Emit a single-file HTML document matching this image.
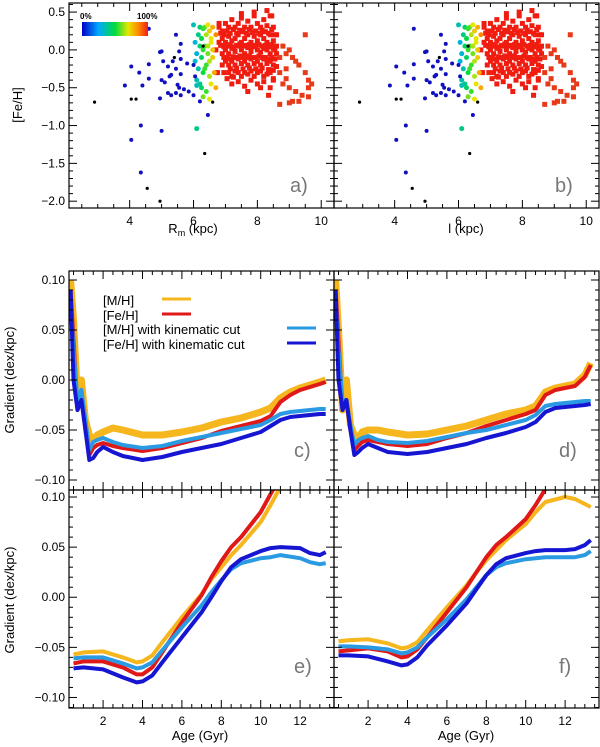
<!DOCTYPE html>
<html><head><meta charset="utf-8"><style>
html,body{margin:0;padding:0;background:#fff;}
svg{display:block;font-family:"Liberation Sans",sans-serif;}
</style></head><body>
<svg id="fig" width="600" height="747" viewBox="0 0 600 747"></svg>
<script>
// ---------- data ----------
const blueR=[4.6,5.45,5.6,5.0,4.95,5.55,5.05,5.35,5.6,5.8,4.05,4.6,5.2,5.45,4.3,5.3,5.25,5.6,4.6,5.0,5.1,3.85,4.4,5.5,5.55,5.7,5.2,5.3,5.45,5.6,5.85,6.0,4.95,6.2,6.45,4.35,5.0,4.05,4.35,6.0,6.05];
const blueFe=[0.28,0.2,0.08,-0.02,-0.03,-0.02,-0.15,-0.15,-0.12,-0.18,-0.22,-0.19,-0.22,-0.25,-0.3,-0.33,-0.35,-0.32,-0.38,-0.4,-0.43,-0.47,-0.47,-0.46,-0.5,-0.52,-0.57,-0.6,-0.57,-0.6,-0.55,-0.6,-0.64,-0.68,-0.86,-1.0,-1.07,-1.19,-1.62,-0.2,-0.35];
const blackR=[2.9,4.05,4.2,6.6,6.35,4.55,4.95,5.4,6.3];
const blackFe=[-0.69,-0.65,-0.65,-0.69,-1.37,-1.83,-2.0,-0.1,0.05];
const midR=[6.0,6.05,6.1,6.2,6.25,6.3,6.35,6.4,6.45,6.5,6.55,6.6,6.05,6.15,6.25,6.35,6.45,6.55,6.1,6.2,6.3,6.4,6.5,6.6,6.7,6.15,6.3,6.45,6.6,6.1,6.25,6.4,6.55,6.7,6.2,6.35,6.5,6.65,6.1,6.3,6.5];
const midFe=[0.33,0.1,-0.05,0.3,0.15,0.0,0.3,0.2,0.33,0.25,0.1,0.3,-0.15,-0.25,-0.1,0.05,-0.05,0.15,-0.4,-0.45,-0.3,-0.2,-0.35,-0.1,0.2,0.2,0.28,0.05,0.0,-0.47,-0.5,-0.55,-0.45,-0.5,0.05,-0.25,-0.15,-0.3,-1.04,-0.62,-0.65];
const midC=[0.35,0.3,0.3,0.45,0.5,0.55,0.6,0.65,0.7,0.75,0.7,0.8,0.3,0.35,0.45,0.55,0.6,0.7,0.35,0.4,0.5,0.55,0.65,0.75,0.85,0.4,0.55,0.65,0.75,0.35,0.45,0.55,0.7,0.8,0.45,0.55,0.65,0.8,0.4,0.6,0.7];
const redR=[6.8,6.9,7.0,7.1,7.2,7.3,7.4,7.5,7.6,7.7,7.8,7.9,8.0,8.1,8.2,8.3,8.4,8.5,8.6,
6.8,6.9,7.0,7.1,7.2,7.3,7.4,7.5,7.6,7.7,7.8,7.9,8.0,8.1,8.2,8.3,8.4,8.5,8.6,
6.9,7.0,7.1,7.2,7.3,7.4,7.5,7.6,7.7,7.8,7.9,8.0,8.1,8.2,8.3,8.4,8.5,8.6,8.7,
7.0,7.1,7.2,7.3,7.4,7.5,7.6,7.7,7.8,7.9,8.0,8.1,8.2,8.3,8.4,8.5,8.6,
7.1,7.2,7.3,7.4,7.5,7.6,7.7,7.8,7.9,8.0,8.1,8.2,8.3,8.4,8.5,
7.2,7.4,7.6,7.8,8.0,8.2,8.4,8.5,7.5,7.9,8.3,8.45,7.7,8.1,8.35,
8.8,8.9,9.0,9.1,9.2,8.7,8.9,9.3,9.5,9.6,9.7,8.8,9.0,9.2,9.4,9.6,8.7,9.0,9.1,9.3,9.6,9.5,8.9,6.75,6.7,
6.85,6.95,7.05,7.15,7.25,7.35,7.45,7.55,7.65,7.75,7.85,7.95,8.05,8.15,8.25,8.35,8.45,8.55,
6.85,6.95,7.05,7.15,7.25,7.35,7.45,7.55,7.65,7.75,7.85,7.95,8.05,8.15,8.25,8.35,8.45,8.55,
6.95,7.05,7.15,7.25,7.35,7.45,7.55,7.65,7.75,7.85,7.95,8.05,8.15,8.25,8.35,8.45,8.55,
7.15,7.35,7.55,7.75,7.95,8.15,8.35,8.5,6.95,7.05,7.25,6.8,6.9];
const redFe=[0.3,0.25,0.35,0.3,0.4,0.3,0.35,0.42,0.3,0.38,0.3,0.45,0.35,0.3,0.4,0.32,0.45,0.3,0.2,
0.1,0.15,0.1,0.18,0.12,0.15,0.2,0.1,0.15,0.2,0.1,0.18,0.12,0.2,0.15,0.1,0.2,0.12,0.05,
-0.05,0.0,-0.05,0.02,-0.02,0.05,0.0,-0.05,0.03,-0.02,0.05,0.0,-0.03,0.02,0.0,-0.05,0.02,-0.05,-0.1,
-0.15,-0.2,-0.15,-0.2,-0.12,-0.18,-0.15,-0.2,-0.12,-0.18,-0.15,-0.2,-0.12,-0.18,-0.15,-0.2,-0.22,
-0.3,-0.35,-0.28,-0.3,-0.35,-0.3,-0.32,-0.28,-0.35,-0.3,-0.28,-0.35,-0.32,-0.3,-0.38,
-0.45,-0.42,-0.48,-0.4,-0.45,-0.42,-0.5,-0.4,0.48,0.5,0.52,0.45,-0.55,-0.5,-0.6,
0.05,-0.05,0.0,-0.1,-0.15,-0.3,-0.25,-0.2,-0.3,-0.4,-0.45,-0.45,-0.5,-0.55,-0.6,-0.5,-0.72,-0.7,-0.68,-0.68,-0.62,0.2,-0.38,-0.3,0.0,
0.22,0.2,0.25,0.22,0.27,0.22,0.26,0.24,0.22,0.27,0.23,0.25,0.22,0.26,0.24,0.22,0.27,0.2,
0.06,0.04,0.05,0.07,0.04,0.06,0.08,0.05,0.06,0.07,0.04,0.06,0.07,0.05,0.06,0.04,0.07,0.0,
-0.1,-0.1,-0.12,-0.09,-0.1,-0.08,-0.1,-0.1,-0.08,-0.1,-0.1,-0.08,-0.1,-0.1,-0.12,-0.1,-0.12,
-0.25,-0.24,-0.25,-0.24,-0.25,-0.24,-0.26,-0.27,-0.3,-0.38,-0.36,0.35,-0.2];
// gradient curves (panels c,d)
const cAge=[0.35,0.5,0.7,0.9,1.1,1.3,1.5,1.7,2,2.5,3,4,5,6,7,8,9,10,10.5,11,11.5,12,12.5,13,13.3];
const cMH=[0.10,0.06,-0.02,0.0,-0.04,-0.055,-0.060,-0.055,-0.052,-0.048,-0.050,-0.055,-0.055,-0.052,-0.048,-0.042,-0.038,-0.032,-0.028,-0.018,-0.012,-0.008,-0.005,-0.002,0.0];
const cFe=[0.09,0.04,-0.03,-0.01,-0.05,-0.075,-0.068,-0.065,-0.063,-0.066,-0.068,-0.071,-0.068,-0.063,-0.058,-0.051,-0.046,-0.041,-0.036,-0.022,-0.015,-0.010,-0.007,-0.004,-0.002];
const cMHk=[0.08,0.03,-0.02,-0.01,-0.04,-0.07,-0.062,-0.060,-0.058,-0.062,-0.065,-0.068,-0.066,-0.061,-0.057,-0.053,-0.049,-0.045,-0.040,-0.034,-0.032,-0.031,-0.030,-0.029,-0.029];
const cFek=[0.09,0.0,-0.03,-0.02,-0.05,-0.08,-0.078,-0.072,-0.067,-0.072,-0.076,-0.080,-0.077,-0.072,-0.068,-0.064,-0.058,-0.052,-0.046,-0.040,-0.037,-0.036,-0.035,-0.034,-0.034];
const dMH=[0.10,0.05,-0.03,0.0,-0.045,-0.055,-0.058,-0.052,-0.050,-0.050,-0.052,-0.055,-0.054,-0.050,-0.046,-0.040,-0.034,-0.030,-0.026,-0.012,-0.008,-0.006,-0.004,0.005,0.017];
const dFe=[0.09,0.04,-0.03,-0.02,-0.05,-0.07,-0.066,-0.062,-0.060,-0.062,-0.064,-0.066,-0.064,-0.058,-0.053,-0.046,-0.040,-0.034,-0.030,-0.015,-0.010,-0.008,-0.006,0.003,0.015];
const dMHk=[0.08,0.03,-0.02,-0.02,-0.045,-0.065,-0.060,-0.058,-0.056,-0.060,-0.062,-0.063,-0.061,-0.057,-0.053,-0.050,-0.045,-0.040,-0.035,-0.026,-0.024,-0.023,-0.022,-0.021,-0.021];
const dFek=[0.09,0.0,-0.03,-0.02,-0.05,-0.075,-0.072,-0.068,-0.064,-0.068,-0.072,-0.074,-0.072,-0.068,-0.064,-0.058,-0.053,-0.047,-0.042,-0.032,-0.028,-0.027,-0.026,-0.025,-0.024];
// panels e,f
const eAge=[0.5,1,2,3,3.7,4,4.5,5,6,7,7.5,8,8.5,9,10,10.5,11,12,12.5,13,13.3];
const eMH=[-0.057,-0.055,-0.054,-0.060,-0.065,-0.064,-0.058,-0.045,-0.020,0.003,0.018,0.030,0.042,0.052,0.075,0.092,0.110,0.14,0.15,0.16,0.17];
const eFe=[-0.066,-0.064,-0.064,-0.070,-0.077,-0.077,-0.070,-0.055,-0.025,0.002,0.020,0.036,0.050,0.060,0.085,0.103,0.12,0.15,0.16,0.17,0.18];
const eMHk=[-0.061,-0.060,-0.060,-0.066,-0.071,-0.070,-0.065,-0.053,-0.030,-0.008,0.005,0.017,0.028,0.034,0.039,0.040,0.042,0.039,0.035,0.033,0.034];
const eFek=[-0.071,-0.070,-0.072,-0.080,-0.085,-0.084,-0.078,-0.065,-0.040,-0.015,0.0,0.016,0.030,0.038,0.046,0.049,0.050,0.049,0.044,0.042,0.045];
const fMH=[-0.044,-0.043,-0.042,-0.046,-0.051,-0.050,-0.045,-0.033,-0.010,0.012,0.025,0.037,0.047,0.057,0.073,0.085,0.095,0.100,0.098,0.093,0.090];
const fFe=[-0.054,-0.053,-0.051,-0.054,-0.060,-0.059,-0.052,-0.040,-0.015,0.010,0.025,0.040,0.052,0.060,0.078,0.092,0.108,0.13,0.14,0.15,0.16];
const fMHk=[-0.049,-0.049,-0.050,-0.052,-0.056,-0.055,-0.050,-0.040,-0.022,-0.002,0.010,0.022,0.030,0.034,0.038,0.039,0.040,0.040,0.040,0.042,0.046];
const fFek=[-0.058,-0.058,-0.059,-0.064,-0.068,-0.067,-0.060,-0.048,-0.028,-0.006,0.008,0.022,0.033,0.039,0.044,0.046,0.047,0.047,0.048,0.052,0.057];

const NS='http://www.w3.org/2000/svg';
const svg=document.getElementById('fig');
function el(tag,attrs,parent){const e=document.createElementNS(NS,tag);for(const k in attrs)e.setAttribute(k,attrs[k]);(parent||svg).appendChild(e);return e;}
const COL={mh:'#f5b61e',fe:'#e01818',mhk:'#2a9ae2',fek:'#1616d2'};
function jet(t){const stops=[[0,[0,0,200]],[0.25,[0,170,255]],[0.5,[0,220,60]],[0.7,[230,230,0]],[0.85,[255,140,0]],[1,[240,30,20]]];
 for(let i=1;i<stops.length;i++){if(t<=stops[i][0]){const a=stops[i-1],b=stops[i];const u=(t-a[0])/(b[0]-a[0]);
 return 'rgb('+a[1].map((v,j)=>Math.round(v+(b[1][j]-v)*u)).join(',')+')';}}return 'rgb(240,30,20)';}

function panel(id,x0,x1,y0,y1,xmin,xmax,ymin,ymax){
 const g=el('g',{});
 
 
 const sx=v=>x0+(v-xmin)/(xmax-xmin)*(x1-x0);
 const sy=v=>y1-(v-ymin)/(ymax-ymin)*(y1-y0);
 const cp=el('clipPath',{id:'clip'+id},g);el('rect',{x:x0,y:y0,width:x1-x0,height:y1-y0},cp);
 const plot=el('g',{'clip-path':'url(#clip'+id+')'},g);
 return {g,plot,sx,sy,x0,x1,y0,y1};
}
function axes(p,xmaj,xmin,ymaj,ymin,xr,yr,showXLab,showYLab,yfmt,id){
 const g=el('g',{},p.g);
 
 
 el('rect',{x:p.x0,y:p.y0,width:p.x1-p.x0,height:p.y1-p.y0,fill:'none',stroke:'#000','stroke-width':1.2},g);
 for(let v=Math.ceil(xr[0]/xmin)*xmin;v<=xr[1]+1e-9;v+=xmin){
  const maj=Math.abs(v/xmaj-Math.round(v/xmaj))<1e-6;const L=maj?8:4;const x=p.sx(v);
  el('line',{x1:x,x2:x,y1:p.y1,y2:p.y1-L,stroke:'#000'},g);el('line',{x1:x,x2:x,y1:p.y0,y2:p.y0+L,stroke:'#000'},g);
  if(maj&&showXLab){const t=el('text',{x:x,y:p.y1+17,'font-size':12,'text-anchor':'middle'},g);t.textContent=Math.round(v);}
 }
 for(let v=Math.ceil(yr[0]/ymin-1e-6)*ymin;v<=yr[1]+1e-9;v+=ymin){
  const maj=Math.abs(v/ymaj-Math.round(v/ymaj))<1e-6;const L=maj?8:4;const y=p.sy(v);
  el('line',{x1:p.x0,x2:p.x0+L,y1:y,y2:y,stroke:'#000'},g);el('line',{x1:p.x1,x2:p.x1-L,y1:y,y2:y,stroke:'#000'},g);
  if(maj&&showYLab){const t=el('text',{x:p.x0-4,y:y+4,'font-size':12,'text-anchor':'end'},g);t.textContent=yfmt(Math.round(v/ymaj)*ymaj);}
 }
}
const f1=v=>(v<0?'\u2212':'')+Math.abs(v).toFixed(1);
const f2=v=>(v<0?'\u2212':'')+Math.abs(v).toFixed(2);

// scatter panels
function scatter(id,x0,x1){
 const p=panel(id,x0,x1,3,208,2.1,10.4,-2.09,0.62);
 for(let i=0;i<redR.length;i++){const r=el('rect',{x:p.sx(redR[i])-2.5,y:p.sy(redFe[i])-2.5,width:5,height:5,fill:redR[i]>8.65?'#e83a18':'#f01c10'},p.plot);
  
  }
 for(let i=0;i<midR.length;i++){const c=el('circle',{cx:p.sx(midR[i]),cy:p.sy(midFe[i]),r:2.5,fill:jet(midC[i])},p.plot);
  
  }
 for(let i=0;i<blueR.length;i++){const c=el('circle',{cx:p.sx(blueR[i]),cy:p.sy(blueFe[i]),r:2,fill:'#1010c0'},p.plot);
  
  }
 for(let i=0;i<blackR.length;i++){const c=el('circle',{cx:p.sx(blackR[i]),cy:p.sy(blackFe[i]),r:1.6,fill:'#000'},p.plot);
  
  }
 axes(p,2,0.5,0.5,0.1,[2.1,10.4],[-2.09,0.62],true,id==='a',f1,id);
 const lt=el('text',{x:x1-44,y:192,'font-size':20,fill:'#777'},p.g);lt.textContent=id+')';
 
 
 return p;
}
const pa=scatter('a',69,334);
const pb=scatter('b',334,599);
// colorbar
const defs=el('defs',{});const lg=el('linearGradient',{id:'jetg'},defs);
[[0,'#0000c8'],[0.25,'#00aaff'],[0.5,'#00dc3c'],[0.7,'#e6e600'],[0.85,'#ff8c00'],[1,'#f01e14']].forEach(s=>el('stop',{offset:s[0],'stop-color':s[1]},lg));
const cb=el('rect',{x:82,y:22,width:66,height:14,fill:'url(#jetg)'});


let t=el('text',{x:80,y:19,'font-size':8,'font-weight':'bold'});t.textContent='0%';
t=el('text',{x:137,y:19,'font-size':8,'font-weight':'bold'});t.textContent='100%';

// line panels
function lineSeries(p,xs,ys,col,w,name){
 const d=xs.map((x,i)=>(i?'L':'M')+p.sx(x).toFixed(1)+','+p.sy(ys[i]).toFixed(1)).join('');
 const path=el('path',{d:d,fill:'none',stroke:col,'stroke-width':w,'stroke-linejoin':'round'},p.plot);
 
 
}
function gradPanel(id,x0,y0,y1,ymin,ymax,xs,s,bottom){
 const p=panel(id,x0,x0+265,y0,y1,0.27,13.72,ymin,ymax);
 lineSeries(p,xs,s[0],COL.mh,bottom?4:7,'mh-line');
 lineSeries(p,xs,s[1],COL.fe,4,'feh-line');
 lineSeries(p,xs,s[2],COL.mhk,4,'mh-kin-line');
 lineSeries(p,xs,s[3],COL.fek,4,'feh-kin-line');
 axes(p,2,0.5,0.05,0.01,[0.27,13.72],[ymin,ymax],bottom,x0<100,f2,id);
 const lt=el('text',{x:x0+225,y:bottom?673:457,'font-size':20,fill:'#777'},p.g);lt.textContent=id+')';
 
 
}
gradPanel('c',69,271,490,-0.11,0.109,cAge,[cMH,cFe,cMHk,cFek],false);
gradPanel('d',334,271,490,-0.11,0.109,cAge,[dMH,dFe,dMHk,dFek],false);
gradPanel('e',69,490,708,-0.1105,0.107,eAge,[eMH,eFe,eMHk,eFek],true);
gradPanel('f',334,490,708,-0.1105,0.107,eAge,[fMH,fFe,fMHk,fFek],true);

// legend
const leg=el('g',{});


[['[M/H]',COL.mh,162,191,301],['[Fe/H]',COL.fe,162,191,316],['[M/H] with kinematic cut',COL.mhk,287,316,330],['[Fe/H] with kinematic cut',COL.fek,287,316,345]].forEach(r=>{
 const tx=el('text',{x:103,y:r[4]+4,'font-size':13},leg);tx.textContent=r[0];
 el('line',{x1:r[2],x2:r[3],y1:r[4]-2,y2:r[4]-2,stroke:r[1],'stroke-width':3},leg);
});
// axis titles
function txt(s,x,y,rot,name){const a={x:x,y:y,'font-size':13,'text-anchor':'middle'};if(rot)a.transform='rotate(-90 '+x+' '+y+')';const e=el('text',a);e.textContent=s;
 
 return e;}
txt('[Fe/H]',22,105,true,'y-axis-title-a');
const rm=txt('R',193,233,false,'x-axis-title-a');const ts=el('tspan',{'font-size':9,dy:3},rm);ts.textContent='m';const ts2=el('tspan',{dy:-3},rm);ts2.textContent=' (kpc)';
txt('l (kpc)',466,233,false,'x-axis-title-b');
txt('Gradient (dex/kpc)',14,380,true,'y-axis-title-c');
txt('Gradient (dex/kpc)',14,600,true,'y-axis-title-e');
txt('Age (Gyr)',200,740,false,'x-axis-title-e');
txt('Age (Gyr)',466,740,false,'x-axis-title-f');
</script>
</body></html>
